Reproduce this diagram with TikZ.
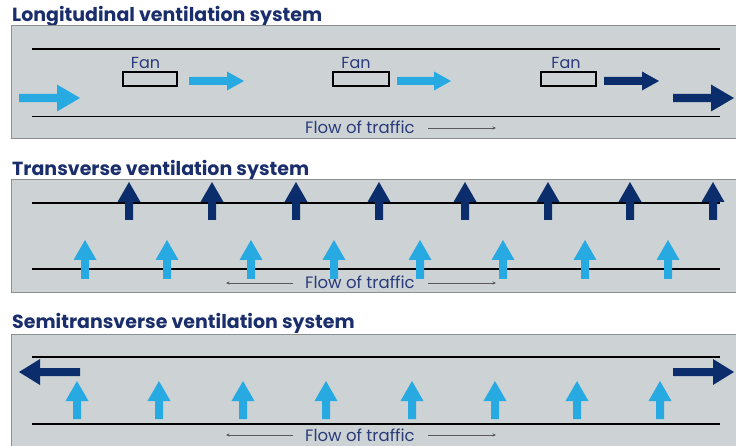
\documentclass[tikz,border=0pt]{standalone}
\usepackage{fontspec}
\setmainfont{Poppins}
\usetikzlibrary{arrows.meta}
\definecolor{navy}{HTML}{0B2D6B}
\definecolor{sky}{HTML}{27AAE2}
\definecolor{panelgray}{HTML}{CDD3D4}
\definecolor{edgegray}{HTML}{8C8F90}
\definecolor{titlenavy}{HTML}{1A2E6C}
\definecolor{textnavy}{HTML}{2A3A7A}
\newcommand\fatarrow[8]{%
  \begin{scope}[shift={(#1,#2)},rotate=#3]
    \fill[#8] (0,-#5) -- (#4-#7,-#5) -- (#4-#7,-#6) -- (#4,0) -- (#4-#7,#6) -- (#4-#7,#5) -- (0,#5) -- cycle;
  \end{scope}}
\tikzset{
  panel/.style={fill=panelgray,draw=edgegray,line width=1pt},
  road/.style={line width=1.3pt,black},
  title/.style={anchor=base west,inner sep=0,text=titlenavy,font=\fontsize{19}{22}\selectfont\bfseries},
  flowtext/.style={anchor=base west,inner sep=0,text=textnavy,font=\fontsize{16.5}{18}\selectfont},
  fanlabel/.style={anchor=base,inner sep=0,text=textnavy,font=\fontsize{16}{18}\selectfont},
  fanbox/.style={draw=black,line width=1.6pt,fill=panelgray},
  flowarrow/.style={draw=black!65,line width=0.8pt,-{Stealth[length=3.5pt,width=3.2pt]}}
}
\begin{document}
\begin{tikzpicture}[x=1pt,y=-1pt]
\useasboundingbox (0,0) rectangle (736,446);
% ---------- Panel 1
\node[title] (t1) at (12,22) {Longitudinal ventilation system};
\draw[panel] (11,26) rectangle (737,139);
\draw[road] (32,49) -- (720,49);
\draw[road] (32,116.5) -- (720,116.5);
\draw[fanbox] (123,72) rectangle (177,86);
\draw[fanbox] (333,72) rectangle (389,86);
\draw[fanbox] (541,72) rectangle (596,86);
\node[fanlabel] (f1) at (145.5,69) {Fan};
\node[fanlabel] (f2) at (356,69) {Fan};
\node[fanlabel] (f3) at (566,69) {Fan};
\fatarrow{19}{98}{0}{61}{4.2}{13.5}{23}{sky}
\fatarrow{189}{81}{0}{55}{4}{9.5}{17}{sky}
\fatarrow{397}{81}{0}{54}{4}{9.5}{17}{sky}
\fatarrow{604}{81}{0}{55}{4}{9.5}{17}{navy}
\fatarrow{673}{98}{0}{61}{4.2}{13.5}{23}{navy}
\node[flowtext] (ft1) at (305,133.5) {Flow of traffic};
\coordinate (r1a) at (428,128);
\coordinate (r1b) at (496,128);
\draw[flowarrow] (r1a) -- (r1b);
% ---------- Panel 2
\node[title] (t2) at (12,176) {Transverse ventilation system};
\draw[panel] (11,180) rectangle (737,293);
\draw[road] (32,203) -- (720,203);
\draw[road] (32,269) -- (720,269);
\foreach \x in {129,212,296,379,465,548,630,713}{\fatarrow{\x}{220}{90}{38}{4}{11.5}{20}{navy}}
\foreach \x in {85,167,251,334,420,503,585,668}{\fatarrow{\x}{279}{90}{39}{4}{11.5}{20}{sky}}
\node[flowtext] (ft2) at (305,289) {Flow of traffic};
\coordinate (l2a) at (293,283);
\coordinate (l2b) at (226,283);
\coordinate (r2a) at (428,283);
\coordinate (r2b) at (496,283);
\draw[flowarrow] (l2a) -- (l2b);
\draw[flowarrow] (r2a) -- (r2b);
% ---------- Panel 3
\node[title] (t3) at (12,328) {Semitransverse ventilation system};
\draw[panel] (11,334) rectangle (737,447);
\draw[road] (32,357) -- (720,357);
\draw[road] (32,424) -- (720,424);
\fatarrow{80}{372}{180}{61}{4}{13}{21}{navy}
\fatarrow{673}{372}{0}{61}{4}{13}{21}{navy}
\foreach \x in {77,159,243,326,412,495,577,660}{\fatarrow{\x}{419}{90}{38}{4}{11.5}{20}{sky}}
\node[flowtext] (ft3) at (305,441) {Flow of traffic};
\coordinate (l3a) at (293,435);
\coordinate (l3b) at (226,435);
\coordinate (r3a) at (428,435);
\coordinate (r3b) at (496,435);
\draw[flowarrow] (l3a) -- (l3b);
\draw[flowarrow] (r3a) -- (r3b);
\end{tikzpicture}
\end{document}
